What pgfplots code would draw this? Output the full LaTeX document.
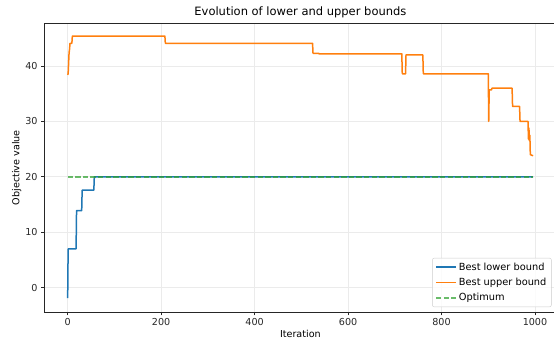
\documentclass[border=0pt]{standalone}
\usepackage{pgfplots}
\pgfplotsset{compat=1.18}
\usepackage{fontspec}
\setmainfont{DejaVu Sans}
\definecolor{tabblue}{HTML}{1F77B4}
\definecolor{taborange}{HTML}{FF7F0E}
\definecolor{tabgreen}{HTML}{2CA02C}
\definecolor{gridc}{HTML}{EBEBEB}
\begin{document}
\begin{tikzpicture}[x=1pt,y=1pt]
\useasboundingbox (0,0) rectangle (554,342);
\begin{axis}[
  at={(44.4pt,30.1pt)}, anchor=south west,
  width=512pt, height=288.4pt, scale only axis,
  xmin=-49.8, xmax=1045.8, ymin=-4.37, ymax=47.67,
  xtick={0,200,400,600,800,1000},
  ytick={0,10,20,30,40},
  grid=major,
  major grid style={gridc, line width=0.77pt},
  axis line style={black!85, line width=0.77pt},
  tick style={black!85, line width=0.77pt},
  tick align=outside, major tick length=3.4pt,
  xtick pos=bottom, ytick pos=left,
  /pgf/number format/assume math mode=true,
  /pgf/number format/1000 sep={},
  tick label style={font=\fontsize{9.6}{11}\selectfont, text=black!85},
  title={Evolution of lower and upper bounds},
  title style={font=\fontsize{11.5}{13}\selectfont, yshift=-4pt},
  xlabel={Iteration}, ylabel={Objective value},
  label style={font=\fontsize{9.6}{11}\selectfont},
  xlabel style={yshift=3pt},
  ylabel style={yshift=-3pt},
  legend cell align=left,
  legend style={at={(1,0)}, anchor=south east, xshift=-4.8pt, yshift=4.8pt,
    font=\fontsize{9.8}{11}\selectfont, draw=black!20, fill=white, fill opacity=0.8, text opacity=1,
    rounded corners=2pt, inner xsep=3pt, inner ysep=2.5pt, row sep=2.5pt},
  legend image code/.code={\draw[#1, line width=1.5pt] (0pt,0pt) -- (20pt,0pt);},
]
\addplot[tabblue, line width=1.5pt, line join=round] coordinates {
(0,-1.9)(1,7.0)(18,7.0)(19,13.9)(30,13.9)(31,17.6)(56,17.6)(57,20)(996,20)};
\addlegendentry{Best lower bound}
\addplot[taborange, line width=1.5pt, line join=round] coordinates {
(0,38.4)(1,38.6)(3,42.4)(4,43.0)(5,44.1)(9,44.1)(10,45.4)(208,45.4)(209,44.1)
(524,44.1)(525,42.3)(537,42.3)(538,42.2)(715,42.2)(716,38.6)(723,38.6)(724,42.0)
(760,42.0)(761,38.6)(900,38.6)(901,30.0)(902,35.7)(907,35.7)(908,36.0)(951,36.0)
(952,32.7)(967,32.7)(968,30.0)(985,30.0)(986,26.8)(987,28.8)(988,26.5)(989,27.5)
(990,24.0)(996,23.8)};
\addlegendentry{Best upper bound}
\addplot[tabgreen, opacity=0.7, line width=1.5pt, dash pattern=on 5.3pt off 2.3pt] coordinates {
(0,20)(996,20)};
\addlegendentry{Optimum}
\end{axis}
\end{tikzpicture}
\end{document}
